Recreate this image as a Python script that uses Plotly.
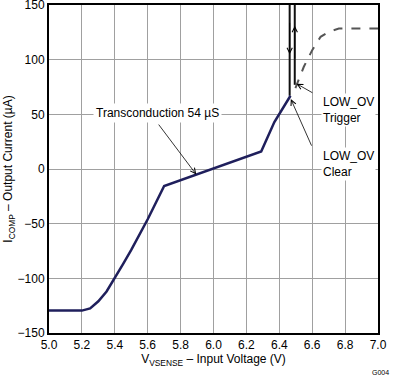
import plotly.graph_objects as go

# Main response curve (V, uA)
curve_v = [5.0, 5.2, 5.25, 5.3, 5.35, 5.4, 5.45, 5.5, 5.6, 5.7, 6.29, 6.37, 6.468]
curve_i = [-129.5, -129.5, -127.5, -121, -112, -100, -87, -74, -46, -15.5, 16, 43, 67]

# LOW_OV clear / trigger vertical lines
clear_v = [6.463, 6.463]
clear_i = [67, 150]
trig_v = [6.494, 6.494]
trig_i = [77, 150]

# Dashed continuation
dash_v = [6.498, 6.549, 6.600, 6.651, 6.701, 6.762, 6.85, 7.0]
dash_i = [74, 93.5, 108.7, 120.9, 125.5, 128.4, 128.6, 128.6]

x_ticks = [5.0, 5.2, 5.4, 5.6, 5.8, 6.0, 6.2, 6.4, 6.6, 6.8, 7.0]
y_ticks = [-150, -100, -50, 0, 50, 100, 150]

FONT = "Liberation Sans, Arial, sans-serif"

fig = go.Figure()
fig.add_trace(go.Scatter(x=dash_v, y=dash_i, mode="lines",
                         line=dict(color="#555555", width=2, dash="dash"), showlegend=False))
fig.add_trace(go.Scatter(x=clear_v, y=clear_i, mode="lines",
                         line=dict(color="#111111", width=2), showlegend=False))
fig.add_trace(go.Scatter(x=trig_v, y=trig_i, mode="lines",
                         line=dict(color="#111111", width=2), showlegend=False))
fig.add_trace(go.Scatter(x=curve_v, y=curve_i, mode="lines",
                         line=dict(color="#1f1f5c", width=2.5), showlegend=False))

ann_font = dict(family=FONT, size=12, color="black")
arrow = dict(showarrow=True, arrowhead=5, arrowsize=1.3, arrowwidth=0.8, arrowcolor="black",
             xref="x", yref="y", axref="x", ayref="y", text="")
annotations = [
    dict(x=5.895, y=-5, ax=5.66, ay=42, **arrow),
    dict(x=5.657, y=51, xref="x", yref="y", text="Transconduction 54 µS", showarrow=False,
         font=ann_font, bgcolor="white", borderpad=2),
    dict(x=6.505, y=78, ax=6.61, ay=69, **arrow),
    dict(x=6.47, y=64, ax=6.60, ay=20, **arrow),
    dict(x=6.655, y=54, xref="x", yref="y", xanchor="left", align="left",
         text="LOW_OV<br>Trigger", showarrow=False, font=ann_font, bgcolor="white", borderpad=1),
    dict(x=6.655, y=4.5, xref="x", yref="y", xanchor="left", align="left",
         text="LOW_OV<br>Clear", showarrow=False, font=ann_font, bgcolor="white", borderpad=1),
    dict(x=6.463, y=105, ax=6.463, ay=135, **arrow),
    dict(x=6.494, y=131, ax=6.494, ay=100, **arrow),
    dict(x=1.04, y=-0.119, xref="paper", yref="paper", xanchor="right", yanchor="middle",
         text="G004", showarrow=False, font=dict(family=FONT, size=7, color="black")),
]

fig.update_layout(
    width=393, height=377,
    margin=dict(l=49, r=15, t=5, b=44),
    paper_bgcolor="white", plot_bgcolor="white",
    font=dict(family=FONT, size=12, color="black"),
    annotations=annotations,
    xaxis=dict(range=[5.0, 7.0], tickvals=x_ticks, ticktext=[f"{v:.1f}" for v in x_ticks],
               showgrid=True, gridcolor="#a0a0a0", gridwidth=1, zeroline=False, automargin=False,
               showline=True, mirror=True, linecolor="black", linewidth=2, ticks="",
               ticklabeloverflow="allow",
               title=dict(text="V<sub>VSENSE</sub> – Input Voltage (V)", standoff=2,
                          font=dict(family=FONT, size=12))),
    yaxis=dict(range=[-150, 150], tickvals=y_ticks, automargin=False,
               showgrid=True, gridcolor="#a0a0a0", gridwidth=1, zeroline=False,
               showline=True, mirror=True, linecolor="black", linewidth=2, ticks="",
               ticklabeloverflow="allow",
               title=dict(text="I<sub>COMP</sub> – Output Current (µA)", standoff=2,
                          font=dict(family=FONT, size=12))),
)

fig.write_html("out.html", config={"displayModeBar": False},
               post_script="document.body.style.margin='0';")
